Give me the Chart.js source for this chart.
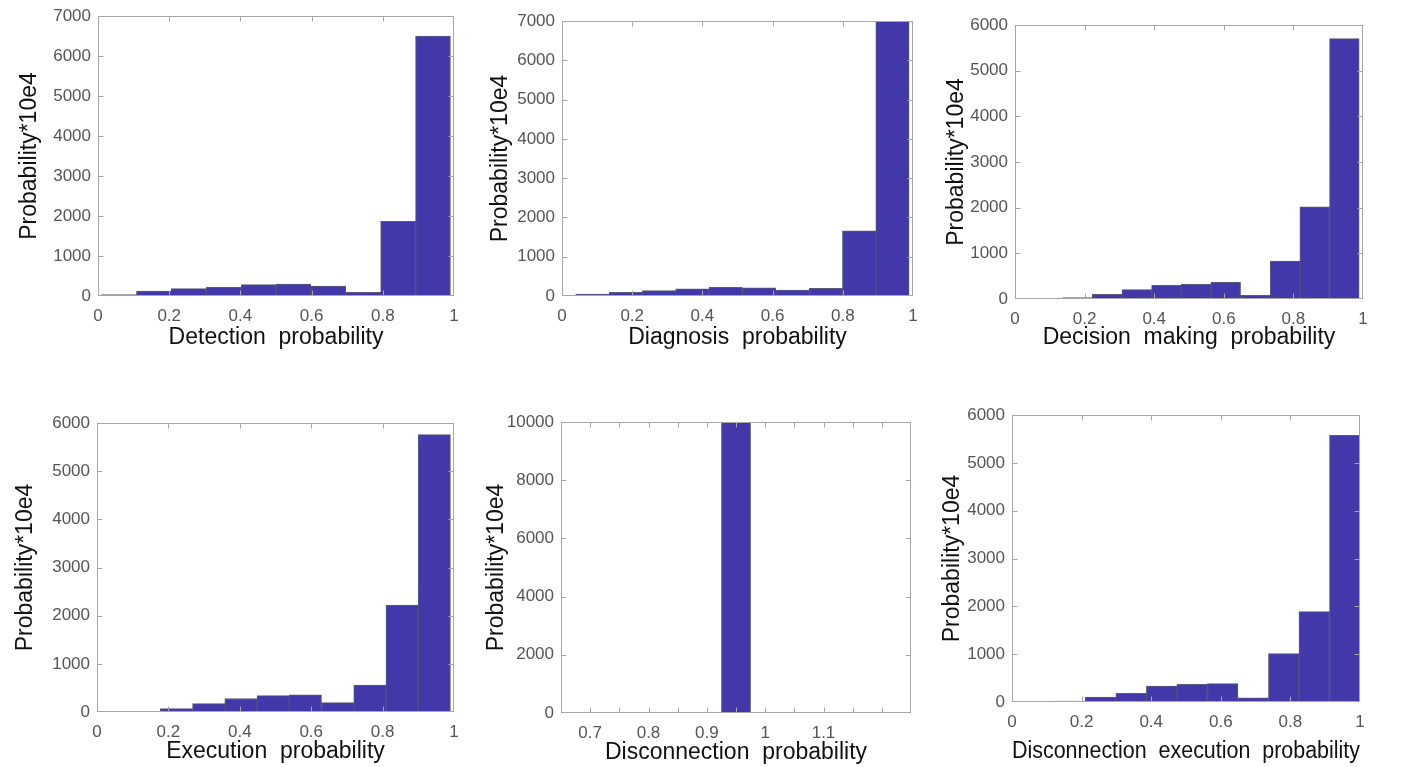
<!DOCTYPE html>
<html lang="en">
<head>
    <meta charset="UTF-8">
    <title>Probability histograms</title>
    <script src="https://cdn.jsdelivr.net/npm/chart.js"></script>
    <style>
        body { margin: 0; background: #fff; width: 1401px; height: 767px; overflow: hidden; position: relative; }
        canvas { position: absolute; }
    </style>
</head>
<body>
    <canvas id="c1"></canvas>
    <canvas id="c2"></canvas>
    <canvas id="c3"></canvas>
    <canvas id="c4"></canvas>
    <canvas id="c5"></canvas>
    <canvas id="c6"></canvas>

    <script>
        // bin centres and counts (probability * 10e4)
        const detectionBins = [0.059, 0.157, 0.255, 0.353, 0.451, 0.549, 0.647, 0.745, 0.843, 0.941];
        const detectionCounts = [35, 125, 185, 215, 285, 300, 250, 90, 1865, 6500];

        const diagnosisBins = [0.0865, 0.1815, 0.2765, 0.3715, 0.4665, 0.5615, 0.6565, 0.7515, 0.8465, 0.9415];
        const diagnosisCounts = [50, 95, 135, 185, 220, 210, 150, 195, 1660, 6990];

        const decisionBins = [0.1796, 0.2648, 0.35, 0.4352, 0.5204, 0.6056, 0.6908, 0.776, 0.8612, 0.9464];
        const decisionCounts = [30, 100, 205, 300, 320, 365, 80, 830, 2020, 5700];

        const executionBins = [0.1322, 0.2225, 0.3128, 0.4031, 0.4934, 0.5837, 0.674, 0.7643, 0.8546, 0.9449];
        const executionCounts = [15, 70, 175, 280, 340, 355, 195, 560, 2220, 5760];

        const disconnectionBins = [0.95];
        const disconnectionCounts = [10000];

        const discExecBins = [0.1669, 0.2546, 0.3423, 0.43, 0.5177, 0.6054, 0.6931, 0.7808, 0.8685, 0.9562];
        const discExecCounts = [20, 105, 180, 335, 370, 385, 85, 1010, 1890, 5575];

        const xTitles = ['Detection  probability', 'Diagnosis  probability', 'Decision  making  probability',
                         'Execution  probability', 'Disconnection  probability', 'Disconnection  execution  probability'];
        const yTitle = 'Probability*10e4';

        // axis ranges
        const xRanges = [[0, 1, 0.2], [0, 1, 0.2], [0, 1, 0.2], [0, 1, 0.2], [0.65, 1.25, 0.05], [0, 1, 0.2]];
        const yRanges = [[0, 7000, 1000], [0, 7000, 1000], [0, 6000, 1000], [0, 6000, 1000], [0, 10000, 2000], [0, 6000, 1000]];

        // plot boxes on the page: left, top, right, bottom, y-title centre x, x-title centre y
        const boxes = [
            [98, 16, 454, 296, 29.5, 338],
            [562, 21, 913, 296, 500.5, 338],
            [1015, 25, 1363, 299, 956.5, 338],
            [97, 423, 454, 712, 25.5, 752],
            [561, 422, 911, 713, 496.5, 753],
            [1012, 415, 1360, 702, 952.5, 752]
        ];

        const FONT = "'Liberation Sans', Arial, sans-serif";
        const TITLE_SIZE = 23;
        const titleOffset = TITLE_SIZE * 1.2 / 2 + 4;

        // MATLAB-like box with inward tick marks
        const boxPlugin = {
            id: 'matlabBox',
            afterDraw(chart) {
                const { ctx, chartArea: a, scales: { x, y } } = chart;
                const L = Math.round(a.left) + 0.5, R = Math.round(a.right) - 0.5;
                const T = Math.round(a.top) + 0.5, B = Math.round(a.bottom) - 0.5;
                ctx.save();
                ctx.strokeStyle = '#a6a6a6';
                ctx.lineWidth = 1;
                ctx.strokeRect(L, T, R - L, B - T);
                ctx.beginPath();
                x.ticks.forEach(t => {
                    const px = Math.round(x.getPixelForValue(t.value)) + 0.5;
                    if (px <= L + 1 || px >= R - 1) return;
                    ctx.moveTo(px, B); ctx.lineTo(px, B - 5);
                    ctx.moveTo(px, T); ctx.lineTo(px, T + 5);
                });
                y.ticks.forEach(t => {
                    const py = Math.round(y.getPixelForValue(t.value)) + 0.5;
                    if (py <= T + 1 || py >= B - 1) return;
                    ctx.moveTo(L, py); ctx.lineTo(L + 5, py);
                    ctx.moveTo(R, py); ctx.lineTo(R - 5, py);
                });
                ctx.stroke();
                ctx.restore();
            }
        };

        function xLabel(panel, v) {
            if (panel === 4) {
                const k = Math.round(v * 100);
                return (k % 10 === 0 && k >= 70 && k <= 110) ? String(k / 100) : '';
            }
            return String(Math.round(v * 10) / 10);
        }

        function makePanel(i, bins, counts) {
            const [l, t, r, b, yt, xt] = boxes[i];
            const canvas = document.getElementById('c' + (i + 1));
            const cLeft = l - 95, cTop = t - 20;
            const W = r - l + 115, H = b - t + 20 + 75;
            canvas.width = W; canvas.height = H;
            canvas.style.left = cLeft + 'px';
            canvas.style.top = cTop + 'px';

            const padLeft = yt - cLeft - titleOffset;
            const yWidth = l - cLeft - padLeft;
            const xHeight = xt + titleOffset - b;
            const padBottom = H - 20 - (b - t) - xHeight;

            new Chart(canvas, {
                type: 'bar',
                data: {
                    datasets: [{
                        data: bins.map((x, k) => ({ x: x, y: counts[k] })),
                        backgroundColor: '#4238aa',
                        borderColor: 'rgba(35,35,80,0.75)',
                        borderWidth: 1,
                        barPercentage: 1,
                        categoryPercentage: 1
                    }]
                },
                options: {
                    responsive: false,
                    animation: false,
                    devicePixelRatio: 1,
                    layout: { padding: { left: padLeft, top: 20, right: 20, bottom: padBottom } },
                    plugins: { legend: { display: false }, tooltip: { enabled: false } },
                    scales: {
                        x: {
                            type: 'linear',
                            offset: false,
                            min: xRanges[i][0],
                            max: xRanges[i][1],
                            grid: { display: false, drawTicks: false, offset: false },
                            border: { display: false },
                            ticks: {
                                stepSize: xRanges[i][2],
                                autoSkip: false,
                                maxRotation: 0,
                                padding: 10,
                                color: '#555555',
                                font: { family: FONT, size: 17 },
                                callback: v => xLabel(i, v)
                            },
                            title: { display: true, text: xTitles[i], color: '#111111', font: { family: FONT, size: TITLE_SIZE } },
                            afterFit: s => { s.height = xHeight; }
                        },
                        y: {
                            min: yRanges[i][0],
                            max: yRanges[i][1],
                            grid: { display: false, drawTicks: false },
                            border: { display: false },
                            ticks: {
                                stepSize: yRanges[i][2],
                                autoSkip: false,
                                padding: 7,
                                color: '#555555',
                                font: { family: FONT, size: 17 },
                                callback: v => String(Math.round(v))
                            },
                            title: { display: true, text: yTitle, color: '#111111', font: { family: FONT, size: TITLE_SIZE } },
                            afterFit: s => { s.width = yWidth; }
                        }
                    }
                },
                plugins: [boxPlugin]
            });
        }

        makePanel(0, detectionBins, detectionCounts);
        makePanel(1, diagnosisBins, diagnosisCounts);
        makePanel(2, decisionBins, decisionCounts);
        makePanel(3, executionBins, executionCounts);
        makePanel(4, disconnectionBins, disconnectionCounts);
        makePanel(5, discExecBins, discExecCounts);
    </script>
</body>
</html>
